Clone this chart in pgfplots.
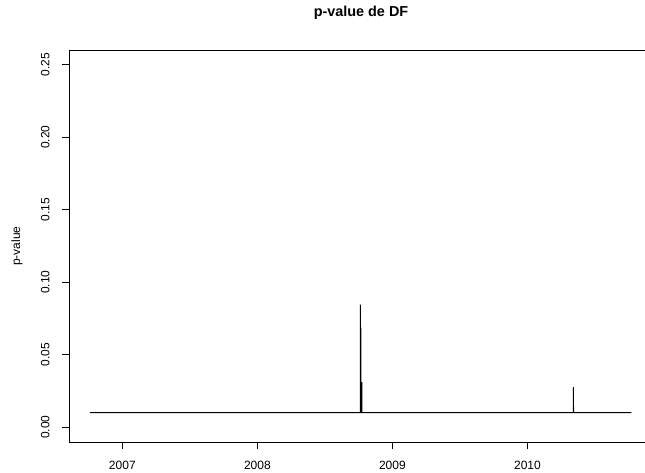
\documentclass[border=0pt]{standalone}
\usepackage{pgfplots}
\pgfplotsset{compat=1.18}
\usepackage{fontspec}
\setmainfont{Liberation Sans}
\begin{document}
\begin{tikzpicture}[x=1pt,y=1pt]
\useasboundingbox (0,0) rectangle (645,472);
\clip (0,0) rectangle (645,472);
\begin{axis}[
  at={(69pt,30pt)}, anchor=south west,
  scale only axis, width=584pt, height=391.7pt,
  xmin=2006.605, xmax=2010.93,
  ymin=-0.0103, ymax=0.2598,
  axis line style={black, line width=0.7pt},
  tick pos=left, tick align=outside,
  major tick length=7pt,
  tick style={black, line width=0.7pt},
  xtick={2007,2008,2009,2010},
  xticklabels={2007,2008,2009,2010},
  ytick={0,0.05,0.1,0.15,0.2,0.25},
  yticklabels={0.00,0.05,0.10,0.15,0.20,0.25},
  tick label style={font=\fontsize{12}{14}\selectfont},
  yticklabel style={rotate=90, anchor=south},
  yticklabel shift=9pt,
  xticklabel shift=8.5pt,
  xlabel={},
  ylabel={p-value},
  ylabel style={font=\fontsize{12}{14}\selectfont, at={(axis description cs:-0.0890,0.5)}, anchor=center},
  title={p-value de DF},
  title style={font=\bfseries\fontsize{14.4}{16}\selectfont, at={(axis description cs:0.5,1.080)}, anchor=center},
]
\addplot[black, line width=0.9pt] coordinates {
(2006.760,0.0100)
(2008.762,0.0100)
(2008.763,0.0844)
(2008.764,0.0686)
(2008.765,0.0400)
(2008.766,0.0686)
(2008.767,0.0322)
(2008.768,0.0100)
(2008.773,0.0100)
(2008.774,0.0310)
(2008.775,0.0100)
(2010.339,0.0100)
(2010.340,0.0276)
(2010.341,0.0184)
(2010.342,0.0100)
(2010.770,0.0100)
};
\end{axis}
\end{tikzpicture}
\end{document}
